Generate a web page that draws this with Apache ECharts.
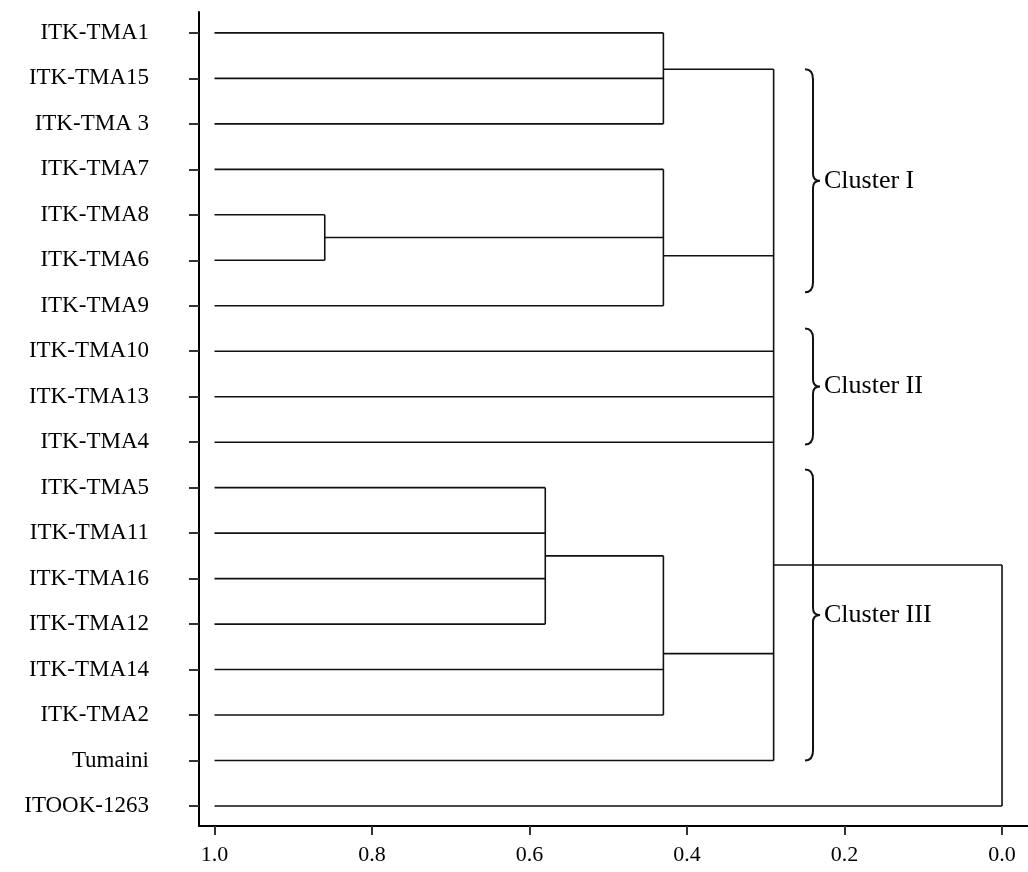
<!DOCTYPE html>
<html>
<head>
<meta charset="utf-8">
<title>Dendrogram</title>
<script src="https://cdn.jsdelivr.net/npm/echarts@6/dist/echarts.min.js"></script>
<style>
  html, body { margin: 0; padding: 0; background: #fff; }
  #chart { width: 1028px; height: 872px; }
</style>
</head>
<body>
<div id="chart"></div>
<script>
// leaf order, top to bottom
const leaves = ['ITK-TMA1', 'ITK-TMA15', 'ITK-TMA 3', 'ITK-TMA7', 'ITK-TMA8', 'ITK-TMA6', 'ITK-TMA9',
  'ITK-TMA10', 'ITK-TMA13', 'ITK-TMA4', 'ITK-TMA5', 'ITK-TMA11', 'ITK-TMA16', 'ITK-TMA12',
  'ITK-TMA14', 'ITK-TMA2', 'Tumaini', 'ITOOK-1263']
const leafHeight = 1.0

// merges: ids continue after the leaves (18, 19, ...)
// kids = joined ids, height = similarity of the join, row = where the join's stem sits
const mergeKids = [[4, 5], [0, 1, 2], [3, 18, 6], [10, 11, 12, 13], [21, 14, 15], [19, 20, 7, 8, 9, 22, 16], [23, 17]]
const mergeHeights = [0.86, 0.43, 0.43, 0.58, 0.43, 0.29, 0.0]
const mergeRows = [4.5, 0.8, 4.9, 11.5, 13.65, 11.7, 17]

// cluster brackets (rows spanned)
const clusterNames = ['Cluster I', 'Cluster II', 'Cluster III']
const clusterFrom = [0.8, 6.5, 9.6]
const clusterTo = [5.7, 9.05, 16.0]
const bracePos = 0.24

const xTicks = [0, 0.2, 0.4, 0.6, 0.8, 1.0]

const FONT = '"Liberation Serif", "DejaVu Serif", serif'

function rowOf (id) {
  return id < leaves.length ? id : mergeRows[id - leaves.length]
}
function heightOf (id) {
  return id < leaves.length ? leafHeight : mergeHeights[id - leaves.length]
}

// build the elbow segments [x1, y1, x2, y2] in data units
const segments = []
mergeKids.forEach((kids, i) => {
  const h = mergeHeights[i]
  const rows = kids.map(rowOf)
  segments.push([h, Math.min(...rows), h, Math.max(...rows)])
  kids.forEach(k => {
    segments.push([heightOf(k), rowOf(k), h, rowOf(k)])
  })
})

const braces = clusterNames.map((n, i) => [bracePos, clusterFrom[i], clusterTo[i], n])

const option = {
  animation: false,
  grid: { left: 199, right: 0, top: 12, bottom: 46 },
  xAxis: {
    type: 'value',
    inverse: true,
    min: -0.033,
    max: 1.0197,
    axisLine: { show: true, onZero: false, lineStyle: { color: '#000', width: 2 } },
    axisTick: { show: true, length: 9, customValues: xTicks, lineStyle: { color: '#333', width: 2 } },
    axisLabel: {
      customValues: xTicks,
      formatter: v => v.toFixed(1),
      margin: 18,
      color: '#000',
      fontSize: 22,
      fontFamily: FONT
    },
    splitLine: { show: false }
  },
  yAxis: {
    type: 'value',
    inverse: true,
    min: -0.46,
    max: 17.44,
    axisLine: { show: true, onZero: false, lineStyle: { color: '#000', width: 2 } },
    axisTick: { show: true, length: 10, customValues: leaves.map((l, i) => i), lineStyle: { color: '#333', width: 2 } },
    axisLabel: {
      customValues: leaves.map((l, i) => i),
      formatter: v => leaves[Math.round(v)],
      margin: 50,
      color: '#000',
      fontSize: 23,
      fontFamily: FONT
    },
    splitLine: { show: false }
  },
  series: [
    { // dendrogram branches
      type: 'custom',
      data: segments,
      clip: false,
      renderItem: (params, api) => {
        const p1 = api.coord([api.value(0), api.value(1)])
        const p2 = api.coord([api.value(2), api.value(3)])
        return {
          type: 'line',
          shape: { x1: p1[0], y1: p1[1], x2: p2[0], y2: p2[1] },
          style: { stroke: '#111', lineWidth: 1.6 }
        }
      }
    },
    { // cluster brackets with labels
      type: 'custom',
      data: braces,
      clip: false,
      renderItem: (params, api) => {
        const top = api.coord([api.value(0), api.value(1)])
        const bot = api.coord([api.value(0), api.value(2)])
        const x = top[0]
        const y0 = top[1]
        const y1 = bot[1]
        const ym = (y0 + y1) / 2
        const d = `M${x - 8},${y0} Q${x},${y0} ${x},${y0 + 10} L${x},${ym - 7} Q${x},${ym} ${x + 7},${ym} ` +
          `Q${x},${ym} ${x},${ym + 7} L${x},${y1 - 10} Q${x},${y1} ${x - 8},${y1}`
        return {
          type: 'group',
          children: [
            {
              type: 'path',
              shape: { pathData: d },
              style: { fill: 'none', stroke: '#111', lineWidth: 2 }
            },
            {
              type: 'text',
              x: x + 11,
              y: ym,
              style: {
                text: api.value(3),
                fill: '#000',
                font: '26px ' + FONT,
                align: 'left',
                verticalAlign: 'middle'
              }
            }
          ]
        }
      }
    }
  ]
}

const myChart = echarts.init(document.getElementById('chart'))
myChart.setOption(option)
</script>
</body>
</html>
